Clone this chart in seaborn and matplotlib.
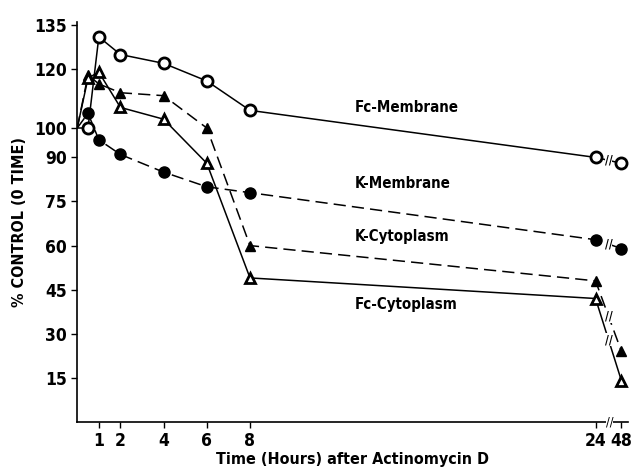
import matplotlib
matplotlib.use("Agg")
import matplotlib.pyplot as plt
import seaborn as sns
import pandas as pd

# hours after actinomycin D (48 h sits after an axis break)
times = [0, 0.5, 1, 2, 4, 6, 8, 24, 48]
fc_membrane = [100, 100, 131, 125, 122, 116, 106, 90, 88]
k_membrane = [100, 105, 96, 91, 85, 80, 78, 62, 59]
k_cytoplasm = [100, 118, 115, 112, 111, 100, 60, 48, 24]
fc_cytoplasm = [100, 117, 119, 107, 103, 88, 49, 42, 14]

x_ticks = [1, 2, 4, 6, 8, 24, 48]
y_ticks = [15, 30, 45, 60, 75, 90, 100, 120, 135]


def to_pos(t):
    # compress the 24 -> 48 h gap (broken axis)
    return t if t <= 24 else 25.2


sns.set_style("ticks")
plt.rcParams["font.family"] = ["DejaVu Sans"]
plt.rcParams["font.stretch"] = "condensed"
plt.rcParams["text.color"] = "black"
plt.rcParams["axes.labelcolor"] = "black"

fig = plt.figure(figsize=(6.33, 4.72), dpi=100)
ax = fig.add_axes([0.122, 0.106, 0.87, 0.847])

pos = [to_pos(t) for t in times]
dash = (0, (8, 4))
series = [
    ("Fc-Membrane", fc_membrane, "o", "white", "-"),
    ("K-Membrane", k_membrane, "o", "black", dash),
    ("K-Cytoplasm", k_cytoplasm, "^", "black", dash),
    ("Fc-Cytoplasm", fc_cytoplasm, "^", "white", "-"),
]

for name, vals, mk, fill, ls in series:
    df = pd.DataFrame({"time": pos[1:], "value": vals[1:]})
    # line from the control point (0 time) without a marker
    sns.lineplot(x=pos[:2], y=vals[:2], ax=ax, color="black", linestyle=ls,
                 linewidth=1.1, sort=False)
    sns.lineplot(data=df, x="time", y="value", ax=ax, color="black",
                 linestyle=ls, linewidth=1.1, marker=mk,
                 markersize=8 if mk == "o" else 7.5,
                 markerfacecolor=fill, markeredgecolor="black",
                 markeredgewidth=2 if fill == "white" else 1, sort=False)

# labels on the curves
labels = [("Fc-Membrane", 107), ("K-Membrane", 81), ("K-Cytoplasm", 63), ("Fc-Cytoplasm", 40)]
for txt, y in labels:
    ax.text(12.85, y, txt, fontsize=10.8, fontweight="bold", va="center", ha="left")

# break marks on the lines between 24 and 48 h
for vals in [fc_membrane, k_membrane, k_cytoplasm, fc_cytoplasm]:
    mx = (to_pos(24) + to_pos(48)) / 2
    my = (vals[-2] + vals[-1]) / 2
    ax.text(mx, my, "//", fontsize=8.5, fontweight="bold", ha="center", va="center",
            bbox=dict(facecolor="white", edgecolor="none", pad=0))

# break on the x axis
ax.text(24.65, 0, "//", fontsize=9, ha="center", va="center", clip_on=False,
        bbox=dict(facecolor="white", edgecolor="none", pad=0))

ax.set_xlim(0, 25.5)
ax.set_ylim(0, 136)
ax.set_xticks([to_pos(t) for t in x_ticks])
ax.set_xticklabels([str(t) for t in x_ticks])
ax.set_yticks(y_ticks)
ax.tick_params(axis="both", labelsize=12.5, length=4, width=1, colors="black")
for lab in ax.get_xticklabels() + ax.get_yticklabels():
    lab.set_fontweight("bold")

ax.set_xlabel("Time (Hours) after Actinomycin D", fontsize=11.5, fontweight="bold", labelpad=1)
ax.set_ylabel("% CONTROL (0 TIME)", fontsize=11.5, fontweight="bold", labelpad=5)
sns.despine(ax=ax)
for sp in ["left", "bottom"]:
    ax.spines[sp].set_linewidth(1.2)
    ax.spines[sp].set_color("black")

fig.savefig("out.png", dpi=100)
